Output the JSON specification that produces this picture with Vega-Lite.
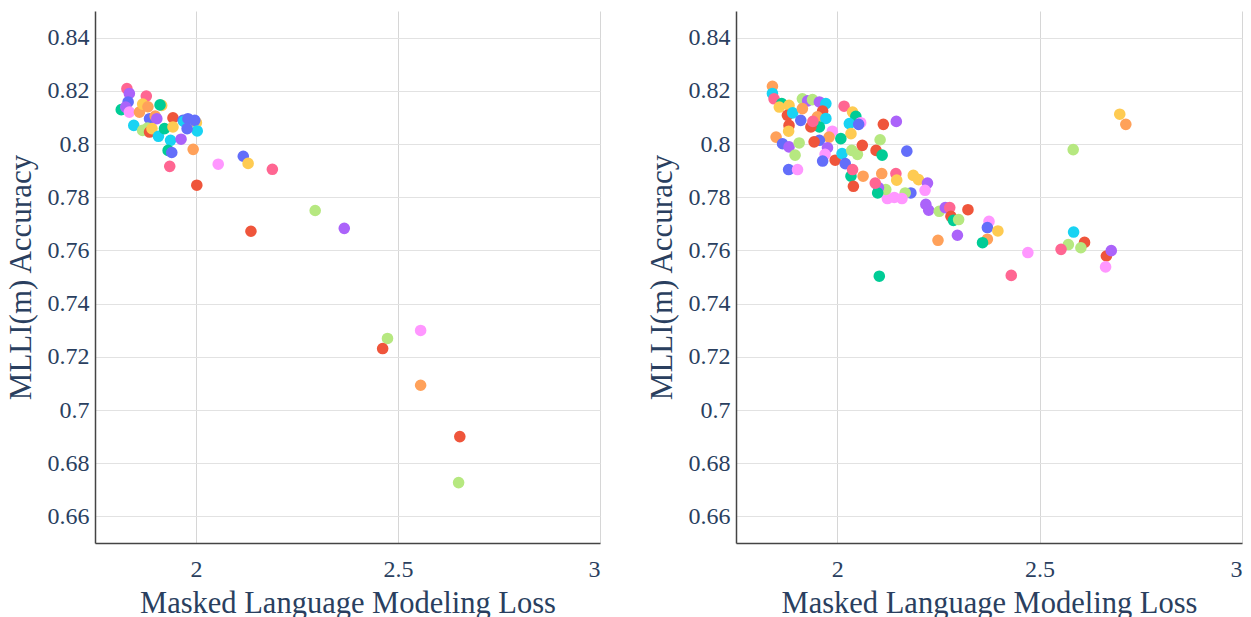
{
  "$schema": "https://vega.github.io/schema/vega-lite/v6.json",
  "background": "white",
  "padding": {"left": 5, "top": 11, "right": 5, "bottom": 0},
  "spacing": 46,
  "config": {
    "view": {"stroke": null},
    "font": "Liberation Serif",
    "axis": {
      "labelFont": "Liberation Serif",
      "titleFont": "Liberation Serif",
      "labelFontSize": 24,
      "titleFontSize": 31,
      "labelColor": "#2a3f5f",
      "titleColor": "#2a3f5f",
      "titleFontWeight": "normal",
      "ticks": false,
      "domainColor": "#444444",
      "domainWidth": 1.5,
      "gridColor": "#e2e2e2",
      "gridWidth": 1
    }
  },
  "datasets": {
    "left": [
      {"x": 1.829, "y": 0.8208, "c": "6"},
      {"x": 1.835, "y": 0.8190, "c": "3"},
      {"x": 1.877, "y": 0.8180, "c": "6"},
      {"x": 1.832, "y": 0.8158, "c": "0"},
      {"x": 1.815, "y": 0.8129, "c": "2"},
      {"x": 1.826, "y": 0.8139, "c": "3"},
      {"x": 1.835, "y": 0.8120, "c": "8"},
      {"x": 1.860, "y": 0.8120, "c": "4"},
      {"x": 1.868, "y": 0.8150, "c": "9"},
      {"x": 1.881, "y": 0.8140, "c": "4"},
      {"x": 1.915, "y": 0.8145, "c": "9"},
      {"x": 1.911, "y": 0.8147, "c": "2"},
      {"x": 1.885, "y": 0.8095, "c": "0"},
      {"x": 1.899, "y": 0.8105, "c": "4"},
      {"x": 1.903, "y": 0.8095, "c": "3"},
      {"x": 1.846, "y": 0.8070, "c": "5"},
      {"x": 1.868, "y": 0.8051, "c": "7"},
      {"x": 1.880, "y": 0.8060, "c": "7"},
      {"x": 1.885, "y": 0.8045, "c": "1"},
      {"x": 1.891, "y": 0.8058, "c": "9"},
      {"x": 1.907, "y": 0.8029, "c": "5"},
      {"x": 1.922, "y": 0.8058, "c": "2"},
      {"x": 1.943, "y": 0.8098, "c": "1"},
      {"x": 1.943, "y": 0.8064, "c": "9"},
      {"x": 1.937, "y": 0.8014, "c": "5"},
      {"x": 1.963, "y": 0.8018, "c": "3"},
      {"x": 1.968, "y": 0.8089, "c": "0"},
      {"x": 1.970, "y": 0.8085, "c": "5"},
      {"x": 1.980, "y": 0.8095, "c": "0"},
      {"x": 2.001, "y": 0.8080, "c": "9"},
      {"x": 1.997, "y": 0.8089, "c": "0"},
      {"x": 2.003, "y": 0.8049, "c": "5"},
      {"x": 1.978, "y": 0.8058, "c": "0"},
      {"x": 1.931, "y": 0.7976, "c": "2"},
      {"x": 1.940, "y": 0.7968, "c": "0"},
      {"x": 1.993, "y": 0.7980, "c": "4"},
      {"x": 1.935, "y": 0.7916, "c": "6"},
      {"x": 2.117, "y": 0.7954, "c": "0"},
      {"x": 2.129, "y": 0.7927, "c": "9"},
      {"x": 2.055, "y": 0.7924, "c": "8"},
      {"x": 2.189, "y": 0.7905, "c": "6"},
      {"x": 2.002, "y": 0.7845, "c": "1"},
      {"x": 2.295, "y": 0.7750, "c": "7"},
      {"x": 2.367, "y": 0.7683, "c": "3"},
      {"x": 2.136, "y": 0.7672, "c": "1"},
      {"x": 2.474, "y": 0.7269, "c": "7"},
      {"x": 2.462, "y": 0.7231, "c": "1"},
      {"x": 2.556, "y": 0.7299, "c": "8"},
      {"x": 2.556, "y": 0.7093, "c": "4"},
      {"x": 2.653, "y": 0.6900, "c": "1"},
      {"x": 2.650, "y": 0.6727, "c": "7"}
    ],
    "right": [
      {"x": 1.840, "y": 0.8217, "c": "4"},
      {"x": 1.840, "y": 0.8190, "c": "5"},
      {"x": 1.844, "y": 0.8170, "c": "6"},
      {"x": 1.863, "y": 0.8152, "c": "2"},
      {"x": 1.857, "y": 0.8139, "c": "9"},
      {"x": 1.881, "y": 0.8145, "c": "9"},
      {"x": 1.877, "y": 0.8108, "c": "1"},
      {"x": 1.890, "y": 0.8117, "c": "5"},
      {"x": 1.910, "y": 0.8089, "c": "0"},
      {"x": 1.881, "y": 0.8070, "c": "1"},
      {"x": 1.880, "y": 0.8048, "c": "9"},
      {"x": 1.849, "y": 0.8026, "c": "4"},
      {"x": 1.865, "y": 0.8001, "c": "0"},
      {"x": 1.881, "y": 0.7989, "c": "3"},
      {"x": 1.906, "y": 0.8004, "c": "7"},
      {"x": 1.896, "y": 0.7958, "c": "7"},
      {"x": 1.880, "y": 0.7904, "c": "0"},
      {"x": 1.902, "y": 0.7904, "c": "8"},
      {"x": 1.914, "y": 0.8170, "c": "7"},
      {"x": 1.927, "y": 0.8162, "c": "3"},
      {"x": 1.939, "y": 0.8167, "c": "7"},
      {"x": 1.956, "y": 0.8158, "c": "3"},
      {"x": 1.972, "y": 0.8152, "c": "5"},
      {"x": 1.964, "y": 0.8124, "c": "1"},
      {"x": 1.914, "y": 0.8133, "c": "4"},
      {"x": 1.951, "y": 0.8102, "c": "4"},
      {"x": 1.972, "y": 0.8096, "c": "5"},
      {"x": 1.956, "y": 0.8064, "c": "2"},
      {"x": 1.935, "y": 0.8064, "c": "1"},
      {"x": 1.940, "y": 0.8085, "c": "6"},
      {"x": 2.017, "y": 0.8142, "c": "6"},
      {"x": 2.038, "y": 0.8120, "c": "9"},
      {"x": 2.046, "y": 0.8104, "c": "2"},
      {"x": 2.030, "y": 0.8077, "c": "5"},
      {"x": 2.058, "y": 0.8080, "c": "8"},
      {"x": 2.053, "y": 0.8074, "c": "0"},
      {"x": 2.034, "y": 0.8039, "c": "9"},
      {"x": 1.988, "y": 0.8048, "c": "8"},
      {"x": 1.980, "y": 0.8026, "c": "4"},
      {"x": 1.956, "y": 0.8014, "c": "0"},
      {"x": 1.943, "y": 0.8008, "c": "1"},
      {"x": 2.009, "y": 0.8020, "c": "2"},
      {"x": 1.976, "y": 0.7986, "c": "3"},
      {"x": 1.970, "y": 0.7961, "c": "8"},
      {"x": 1.964, "y": 0.7936, "c": "0"},
      {"x": 1.995, "y": 0.7939, "c": "1"},
      {"x": 2.012, "y": 0.7964, "c": "5"},
      {"x": 2.036, "y": 0.7976, "c": "7"},
      {"x": 2.050, "y": 0.7961, "c": "7"},
      {"x": 2.062, "y": 0.7995, "c": "1"},
      {"x": 2.020, "y": 0.7926, "c": "0"},
      {"x": 2.034, "y": 0.7879, "c": "2"},
      {"x": 2.038, "y": 0.7904, "c": "6"},
      {"x": 2.040, "y": 0.7841, "c": "1"},
      {"x": 2.064, "y": 0.7879, "c": "4"},
      {"x": 2.146, "y": 0.8085, "c": "3"},
      {"x": 2.114, "y": 0.8074, "c": "1"},
      {"x": 2.106, "y": 0.8016, "c": "7"},
      {"x": 2.096, "y": 0.7976, "c": "1"},
      {"x": 2.111, "y": 0.7958, "c": "2"},
      {"x": 2.172, "y": 0.7973, "c": "0"},
      {"x": 2.110, "y": 0.7889, "c": "4"},
      {"x": 2.145, "y": 0.7889, "c": "6"},
      {"x": 2.147, "y": 0.7864, "c": "9"},
      {"x": 2.188, "y": 0.7882, "c": "9"},
      {"x": 2.201, "y": 0.7866, "c": "9"},
      {"x": 2.223, "y": 0.7853, "c": "3"},
      {"x": 2.217, "y": 0.7826, "c": "8"},
      {"x": 2.182, "y": 0.7816, "c": "0"},
      {"x": 2.168, "y": 0.7816, "c": "7"},
      {"x": 2.124, "y": 0.7795, "c": "8"},
      {"x": 2.141, "y": 0.7799, "c": "8"},
      {"x": 2.160, "y": 0.7795, "c": "8"},
      {"x": 2.120, "y": 0.7829, "c": "7"},
      {"x": 2.102, "y": 0.7836, "c": "3"},
      {"x": 2.100, "y": 0.7816, "c": "2"},
      {"x": 2.094, "y": 0.7853, "c": "6"},
      {"x": 2.219, "y": 0.7773, "c": "3"},
      {"x": 2.226, "y": 0.7751, "c": "3"},
      {"x": 2.252, "y": 0.7747, "c": "7"},
      {"x": 2.267, "y": 0.7761, "c": "3"},
      {"x": 2.278, "y": 0.7761, "c": "6"},
      {"x": 2.281, "y": 0.7728, "c": "1"},
      {"x": 2.287, "y": 0.7713, "c": "2"},
      {"x": 2.300, "y": 0.7716, "c": "7"},
      {"x": 2.323, "y": 0.7753, "c": "1"},
      {"x": 2.249, "y": 0.7638, "c": "4"},
      {"x": 2.297, "y": 0.7657, "c": "3"},
      {"x": 2.375, "y": 0.7709, "c": "8"},
      {"x": 2.371, "y": 0.7686, "c": "0"},
      {"x": 2.397, "y": 0.7673, "c": "9"},
      {"x": 2.371, "y": 0.7642, "c": "4"},
      {"x": 2.359, "y": 0.7629, "c": "2"},
      {"x": 2.471, "y": 0.7592, "c": "8"},
      {"x": 2.430, "y": 0.7506, "c": "6"},
      {"x": 2.104, "y": 0.7503, "c": "2"},
      {"x": 2.698, "y": 0.8112, "c": "9"},
      {"x": 2.713, "y": 0.8074, "c": "4"},
      {"x": 2.583, "y": 0.7979, "c": "7"},
      {"x": 2.584, "y": 0.7669, "c": "5"},
      {"x": 2.611, "y": 0.7630, "c": "1"},
      {"x": 2.602, "y": 0.7610, "c": "7"},
      {"x": 2.571, "y": 0.7622, "c": "7"},
      {"x": 2.553, "y": 0.7604, "c": "6"},
      {"x": 2.665, "y": 0.7579, "c": "1"},
      {"x": 2.677, "y": 0.7599, "c": "3"},
      {"x": 2.663, "y": 0.7538, "c": "8"}
    ]
  },
  "hconcat": [
    {
      "width": 505,
      "height": 532,
      "data": {"name": "left"},
      "mark": {"type": "circle", "size": 135, "opacity": 1},
      "encoding": {
        "x": {"field": "x", "type": "quantitative", "title": "Masked Language Modeling Loss",
              "scale": {"domain": [1.75, 3], "nice": false, "zero": false},
              "axis": {"values": [2, 2.5, 3], "format": "~g", "labelFont": "Liberation Serif", "labelFontSize": 24, "titleFont": "Liberation Serif", "titleFontSize": 30.5, "labelPadding": 14, "titlePadding": 7, "gridColor": "#d6d6d6"}},
        "y": {"field": "y", "type": "quantitative", "title": "MLLI(m) Accuracy",
              "scale": {"domain": [0.65, 0.85], "nice": false, "zero": false},
              "axis": {"values": [0.66, 0.68, 0.7, 0.72, 0.74, 0.76, 0.78, 0.8, 0.82, 0.84], "format": "~g", "labelFont": "Liberation Serif", "labelFontSize": 24, "titleFont": "Liberation Serif", "titleFontSize": 31, "labelPadding": 6, "titlePadding": 10}},
        "color": {"field": "c", "type": "nominal", "legend": null,
                  "scale": {"domain": ["0","1","2","3","4","5","6","7","8","9"],
                            "range": ["#636efa","#EF553B","#00cc96","#ab63fa","#FFA15A","#19d3f3","#FF6692","#B6E880","#FF97FF","#FECB52"]}}
      }
    },
    {
      "width": 506,
      "height": 532,
      "data": {"name": "right"},
      "mark": {"type": "circle", "size": 135, "opacity": 1},
      "encoding": {
        "x": {"field": "x", "type": "quantitative", "title": "Masked Language Modeling Loss",
              "scale": {"domain": [1.75, 3], "nice": false, "zero": false},
              "axis": {"values": [2, 2.5, 3], "format": "~g", "labelFont": "Liberation Serif", "labelFontSize": 24, "titleFont": "Liberation Serif", "titleFontSize": 30.5, "labelPadding": 14, "titlePadding": 7, "gridColor": "#d6d6d6"}},
        "y": {"field": "y", "type": "quantitative", "title": "MLLI(m) Accuracy",
              "scale": {"domain": [0.65, 0.85], "nice": false, "zero": false},
              "axis": {"values": [0.66, 0.68, 0.7, 0.72, 0.74, 0.76, 0.78, 0.8, 0.82, 0.84], "format": "~g", "labelFont": "Liberation Serif", "labelFontSize": 24, "titleFont": "Liberation Serif", "titleFontSize": 31, "labelPadding": 6, "titlePadding": 10}},
        "color": {"field": "c", "type": "nominal", "legend": null,
                  "scale": {"domain": ["0","1","2","3","4","5","6","7","8","9"],
                            "range": ["#636efa","#EF553B","#00cc96","#ab63fa","#FFA15A","#19d3f3","#FF6692","#B6E880","#FF97FF","#FECB52"]}}
      }
    }
  ]
}
